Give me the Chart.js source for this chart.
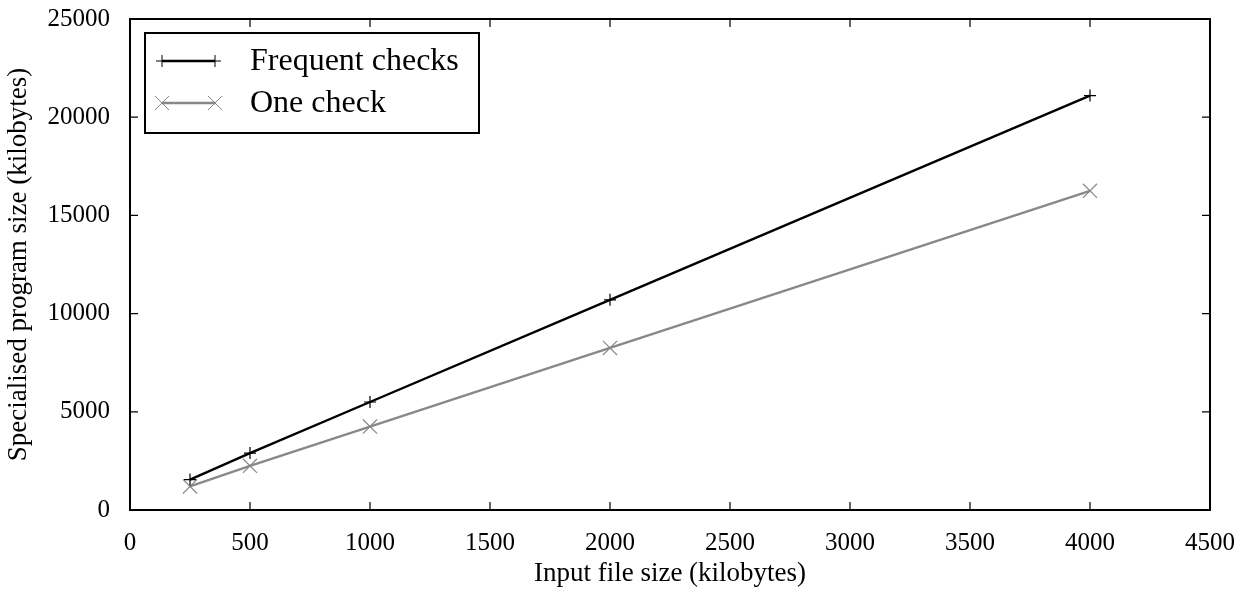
<!DOCTYPE html>
<html>
<head>
<meta charset="utf-8">
<script src="https://cdn.jsdelivr.net/npm/chart.js@4/dist/chart.umd.min.js"></script>
<style>
  html, body { margin: 0; padding: 0; background: #fff; overflow: hidden; }
  #wrap { width: 1246px; height: 592px; }
</style>
</head>
<body>
<div id="wrap"><canvas id="sizeChart"></canvas></div>
<script>
// input file sizes (kilobytes)
var inputSizes = [250, 500, 1000, 2000, 4000];
// specialised program sizes (kilobytes)
var frequentChecks = [1550, 2900, 5500, 10700, 21100];
var oneCheck = [1200, 2250, 4250, 8250, 16250];

var xTicks = [0, 500, 1000, 1500, 2000, 2500, 3000, 3500, 4000, 4500];
var yTicks = [0, 5000, 10000, 15000, 20000, 25000];

var FONT = "'Liberation Serif', 'DejaVu Serif', serif";
var GREY = "#888888";

function toPoints(xs, ys) {
    var pts = [];
    for (var i = 0; i < xs.length; i++) {
        pts.push({x: xs[i], y: ys[i]});
    }
    return pts;
}

// frame + inward ticks on all four sides, like gnuplot
var framePlugin = {
    id: "frame",
    afterDatasetsDraw: function(chart) {
        var ctx = chart.ctx;
        var a = chart.chartArea;
        var xs = chart.scales.x, ys = chart.scales.y;
        var len = 8;
        ctx.save();
        ctx.strokeStyle = "#000";
        ctx.lineWidth = 1.2;
        ctx.beginPath();
        xTicks.forEach(function(v) {
            var px = xs.getPixelForValue(v);
            ctx.moveTo(px, a.bottom); ctx.lineTo(px, a.bottom - len);
            ctx.moveTo(px, a.top); ctx.lineTo(px, a.top + len);
        });
        yTicks.forEach(function(v) {
            var py = ys.getPixelForValue(v);
            ctx.moveTo(a.left, py); ctx.lineTo(a.left + len, py);
            ctx.moveTo(a.right, py); ctx.lineTo(a.right - len, py);
        });
        ctx.stroke();
        ctx.lineWidth = 2;
        ctx.strokeRect(a.left, a.top, a.right - a.left, a.bottom - a.top);
        ctx.restore();
    }
};

// legend box in the top left corner of the plot
var legendPlugin = {
    id: "boxLegend",
    afterDraw: function(chart) {
        var ctx = chart.ctx;
        var a = chart.chartArea;
        var boxX = a.left + 15, boxY = a.top + 14, boxW = 334, boxH = 100;
        ctx.save();
        ctx.fillStyle = "#fff";
        ctx.fillRect(boxX, boxY, boxW, boxH);
        ctx.strokeStyle = "#000";
        ctx.lineWidth = 2;
        ctx.strokeRect(boxX, boxY, boxW, boxH);
        ctx.font = "32px " + FONT;
        ctx.textBaseline = "middle";
        chart.data.datasets.forEach(function(ds, i) {
            var cy = boxY + 28 + i * 42;
            var x0 = boxX + 17, x1 = boxX + 70;
            ctx.strokeStyle = ds.borderColor;
            ctx.lineWidth = ds.borderWidth;
            ctx.beginPath();
            ctx.moveTo(x0, cy); ctx.lineTo(x1, cy);
            ctx.stroke();
            ctx.lineWidth = 1;
            [x0, x1].forEach(function(px) {
                Chart.helpers.drawPoint(ctx, {
                    pointStyle: ds.pointStyle,
                    radius: ds.pointRadius,
                    borderWidth: 1
                }, px, cy);
            });
            ctx.fillStyle = "#000";
            ctx.fillText(ds.label, boxX + 105, cy + 1);
        });
        ctx.restore();
    }
};

function noPad(scale) {
    scale.paddingTop = 0;
    scale.paddingBottom = 0;
    scale.paddingLeft = 0;
    scale.paddingRight = 0;
}

var chart = new Chart(document.getElementById("sizeChart"), {
    type: "line",
    data: {
        datasets: [
            {
                label: "Frequent checks",
                data: toPoints(inputSizes, frequentChecks),
                borderColor: "#000",
                backgroundColor: "#000",
                borderWidth: 2.4,
                pointStyle: "cross",
                pointRadius: 6,
                pointBorderWidth: 1.2,
                pointHoverRadius: 6,
                fill: false,
                tension: 0
            },
            {
                label: "One check",
                data: toPoints(inputSizes, oneCheck),
                borderColor: GREY,
                backgroundColor: GREY,
                borderWidth: 2.4,
                pointStyle: "crossRot",
                pointRadius: 10,
                pointBorderWidth: 1.2,
                pointHoverRadius: 10,
                fill: false,
                tension: 0
            }
        ]
    },
    options: {
        responsive: true,
        maintainAspectRatio: false,
        animation: false,
        layout: { padding: { top: 19, right: 36, left: 0, bottom: 0 } },
        plugins: {
            legend: { display: false },
            tooltip: { enabled: false }
        },
        scales: {
            x: {
                type: "linear",
                min: 0,
                max: 4500,
                afterBuildTicks: function(scale) {
                    scale.ticks = xTicks.map(function(v) { return {value: v}; });
                },
                afterFit: function(scale) { scale.height = 82; noPad(scale); },
                grid: { display: false, drawTicks: false },
                border: { display: false },
                ticks: {
                    color: "#000",
                    padding: 18,
                    maxRotation: 0,
                    font: { family: FONT, size: 25 },
                    callback: function(v) { return String(v); }
                },
                title: {
                    display: true,
                    text: "Input file size (kilobytes)",
                    color: "#000",
                    padding: { top: 0, bottom: 2 },
                    font: { family: FONT, size: 27 }
                }
            },
            y: {
                type: "linear",
                min: 0,
                max: 25000,
                afterBuildTicks: function(scale) {
                    scale.ticks = yTicks.map(function(v) { return {value: v}; });
                },
                afterFit: function(scale) { scale.width = 130; noPad(scale); },
                grid: { display: false, drawTicks: false },
                border: { display: false },
                ticks: {
                    color: "#000",
                    padding: 20,
                    font: { family: FONT, size: 25 },
                    callback: function(v) { return String(v); }
                },
                title: {
                    display: true,
                    text: "Specialised program size (kilobytes)",
                    color: "#000",
                    padding: { top: 3, bottom: 0 },
                    font: { family: FONT, size: 27 }
                }
            }
        }
    },
    plugins: [framePlugin, legendPlugin]
});
</script>
</body>
</html>
